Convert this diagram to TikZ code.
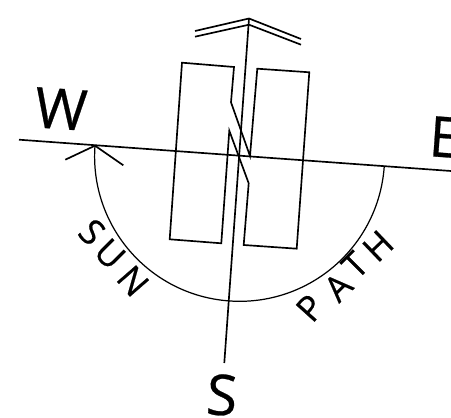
\documentclass[tikz,border=0pt]{standalone}
\usepackage{fontspec}
\setmainfont[FakeBold=0.5,AutoFakeBold=0.5]{Open Sans}
\usepackage{tikz}
\usetikzlibrary{positioning}
\tikzset{
  planline/.style={line width=0.95pt,line join=miter},
  thinline/.style={line width=0.7pt},
  bigletter/.style={font=\fontsize{32}{32}\selectfont\bfseries,inner sep=0pt,rotate=-4},
  pathletter/.style={font=\fontsize{20}{20}\selectfont\bfseries,inner sep=0pt}
}
\begin{document}
\begin{tikzpicture}[x=0.02cm,y=-0.02cm]
\useasboundingbox (0,0) rectangle (451,418);
\coordinate (west) at (19,139.7);
\coordinate (east) at (451,171);
\coordinate (north) at (249,18.5);
\coordinate (south) at (224.3,363);
\coordinate (tip) at (95,145.7);
\coordinate (barbl) at (65.3,159.7);
\coordinate (barbr) at (123.3,165.3);
\coordinate (roofla) at (195,31);
\coordinate (roofra) at (301,39);
\coordinate (rooflb) at (195,36.7);
\coordinate (roofmb) at (249,24.7);
\coordinate (roofrb) at (301,44.7);
\draw[planline] (250,156)--(231,102.3)--(234,67)--(182,62.7)--(169.7,239.3)--(221.3,243.3)--(229.3,130.7)--(248.7,183.3)--(243.7,245)--(296.7,248.7)--(309.3,72.3)--(257.3,68.7)--cycle;
\draw[planline] (west)--(east);
\draw[planline] (north)--(south);
\draw[planline] (roofla)--(north)--(roofra);
\draw[planline] (rooflb)--(roofmb)--(roofrb);
\draw[thinline] (tip) arc[start angle=184.2,end angle=4.2,radius=145];
\draw[planline] (barbl)--(tip)--(barbr);
\node[bigletter] (w) at (61,109) {W};
\node[bigletter,anchor=west] (e) at (429,136) {E};
\node[bigletter] (s) at (222,395) {S};
\node[pathletter,rotate=-45] (sunS) at (92,232) {S};
\node[pathletter,rotate=-45] (sunU) at (110,254) {U};
\node[pathletter,rotate=-49] (sunN) at (133,281) {N};
\node[pathletter,rotate=48] (pathP) at (310,308) {P};
\node[pathletter,rotate=45] (pathA) at (338,287) {A};
\node[pathletter,rotate=45] (pathT) at (355,265) {T};
\node[pathletter,rotate=44] (pathH) at (378,246) {H};
\end{tikzpicture}
\end{document}
